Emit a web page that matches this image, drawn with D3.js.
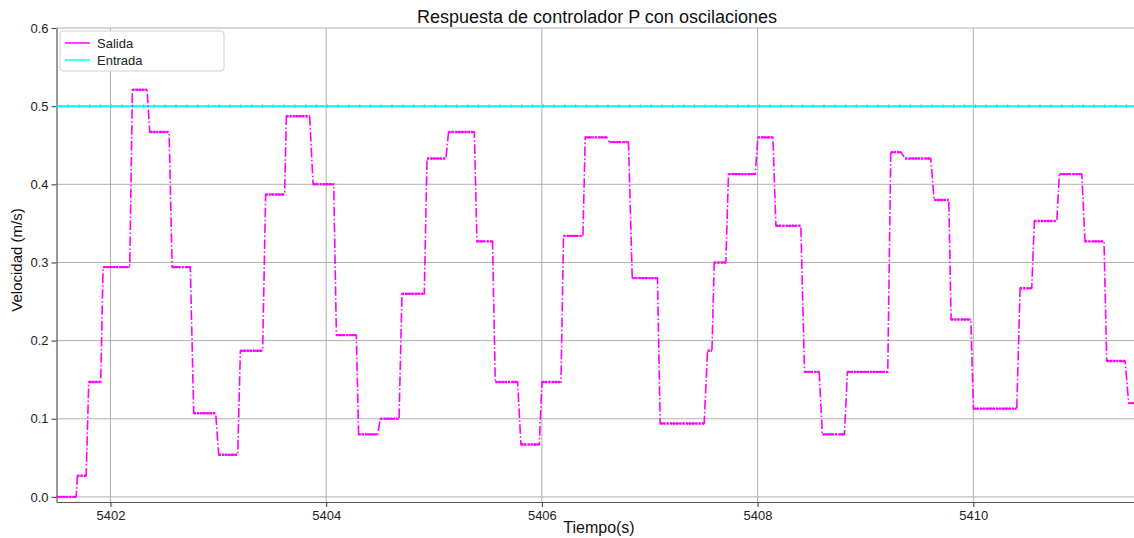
<!DOCTYPE html>
<html>
<head>
<meta charset="utf-8">
<script src="https://cdn.jsdelivr.net/npm/d3@7"></script>
<style>
  body { margin: 0; background: #fff; }
  svg { display: block; font-family: "Liberation Sans", Arial, sans-serif; }
  .grid line { stroke: #b0b0b0; stroke-width: 1; }
  .axis path, .axis line { stroke: #555; stroke-width: 1.2; }
  .axis text { fill: #222; font-size: 13px; }
</style>
</head>
<body>
<div id="graphic"></div>
<script>
// steps of the output signal (Salida): start time, end time, level
var stepStart = [5401.50, 5401.694, 5401.799, 5401.932, 5402.204, 5402.364, 5402.572, 5402.772, 5403.004, 5403.205,
  5403.439, 5403.631, 5403.879, 5404.095, 5404.301, 5404.502, 5404.703, 5404.935, 5405.135, 5405.398,
  5405.568, 5405.806, 5406.001, 5406.201, 5406.402, 5406.627, 5406.838, 5407.097, 5407.536, 5407.598,
  5407.730, 5408.003, 5408.170, 5408.435, 5408.601, 5408.833, 5409.235, 5409.368, 5409.637, 5409.794,
  5410.001, 5410.434, 5410.566, 5410.798, 5411.036, 5411.237, 5411.441];
var stepEnd = [5401.682, 5401.775, 5401.910, 5402.179, 5402.340, 5402.544, 5402.741, 5402.976, 5403.180, 5403.411,
  5403.615, 5403.847, 5404.070, 5404.280, 5404.477, 5404.676, 5404.910, 5405.111, 5405.374, 5405.543,
  5405.775, 5405.976, 5406.177, 5406.381, 5406.603, 5406.803, 5407.072, 5407.505, 5407.577, 5407.706,
  5407.978, 5408.142, 5408.401, 5408.571, 5408.805, 5409.207, 5409.331, 5409.606, 5409.773, 5409.977,
  5410.403, 5410.542, 5410.774, 5411.006, 5411.212, 5411.407, 5411.60];
var stepValue = [0.000, 0.027, 0.147, 0.294, 0.521, 0.467, 0.294, 0.107, 0.054, 0.187,
  0.387, 0.487, 0.400, 0.207, 0.080, 0.100, 0.260, 0.433, 0.467, 0.327,
  0.147, 0.067, 0.147, 0.334, 0.460, 0.454, 0.280, 0.094, 0.187, 0.300,
  0.413, 0.460, 0.347, 0.160, 0.080, 0.160, 0.441, 0.433, 0.380, 0.227,
  0.113, 0.267, 0.353, 0.413, 0.327, 0.174, 0.120];

// reference input (Entrada)
var entradaTime = [5401.5, 5411.6];
var entradaValue = [0.5, 0.5];

var xTicks = [5402, 5404, 5406, 5408, 5410];
var yTicks = [0.0, 0.1, 0.2, 0.3, 0.4, 0.5, 0.6];

var width = 1134, height = 538;
var margin = {top: 28, right: 0, bottom: 36, left: 56.5};

var svg = d3.select('#graphic').append('svg')
  .attr('width', width)
  .attr('height', height);

var x = d3.scaleLinear()
  .domain([5401.5, 5411.49])
  .range([margin.left, width - margin.right]);

var y = d3.scaleLinear()
  .domain([-0.0065, 0.6])
  .range([height - margin.bottom, margin.top]);

svg.append('defs').append('clipPath').attr('id', 'clip')
  .append('rect')
  .attr('x', margin.left)
  .attr('y', margin.top - 5)
  .attr('width', width - margin.left)
  .attr('height', height - margin.bottom - margin.top + 5);

// grid
var grid = svg.append('g').attr('class', 'grid');
grid.selectAll('line.h')
  .data(yTicks)
  .join('line')
  .attr('class', 'h')
  .attr('x1', margin.left).attr('x2', width)
  .attr('y1', d => y(d)).attr('y2', d => y(d));
grid.selectAll('line.v')
  .data(xTicks)
  .join('line')
  .attr('class', 'v')
  .attr('x1', d => x(d)).attr('x2', d => x(d))
  .attr('y1', margin.top).attr('y2', height - margin.bottom);

// axes
svg.append('g')
  .attr('class', 'x axis')
  .attr('transform', 'translate(0,' + (height - margin.bottom) + ')')
  .call(d3.axisBottom(x).tickValues(xTicks).tickFormat(d3.format('d')).tickSize(5).tickSizeOuter(0).tickPadding(4));

svg.append('g')
  .attr('class', 'y axis')
  .attr('transform', 'translate(' + margin.left + ',0)')
  .call(d3.axisLeft(y).tickValues(yTicks).tickFormat(d3.format('.1f')).tickSize(5).tickSizeOuter(0).tickPadding(3));

var plot = svg.append('g').attr('clip-path', 'url(#clip)');

// entrada
var entrada = d3.zip(entradaTime, entradaValue);
var line = d3.line().x(d => x(d[0])).y(d => y(d[1]));
plot.append('path')
  .datum(entrada)
  .attr('d', line)
  .attr('fill', 'none')
  .attr('stroke', '#00ffff')
  .attr('stroke-width', 2);
plot.append('path')
  .datum(entrada)
  .attr('d', line)
  .attr('fill', 'none')
  .attr('stroke', '#22e4e4')
  .attr('stroke-width', 3.5)
  .attr('stroke-dasharray', '1.5,9.3');

// salida: dash-dot line through the step levels
var salida = [];
stepValue.forEach(function(v, i) {
  salida.push([stepStart[i], v]);
  salida.push([stepEnd[i], v]);
});
plot.append('path')
  .datum(salida)
  .attr('d', line)
  .attr('fill', 'none')
  .attr('stroke', '#ff00ff')
  .attr('stroke-width', 1.6)
  .attr('stroke-dasharray', '9.6,2.4,1.5,2.4');

// sample markers on the flat parts
plot.selectAll('line.flat')
  .data(stepValue)
  .join('line')
  .attr('class', 'flat')
  .attr('x1', (d, i) => x(stepStart[i]))
  .attr('x2', (d, i) => x(stepEnd[i]))
  .attr('y1', d => y(d))
  .attr('y2', d => y(d))
  .attr('stroke', '#ff00ff')
  .attr('stroke-width', 2.4)
  .attr('stroke-dasharray', '2.2,1');

// title and labels
svg.append('text')
  .attr('x', 597).attr('y', 23)
  .attr('text-anchor', 'middle')
  .style('font-size', '18px')
  .attr('fill', '#111')
  .text('Respuesta de controlador P con oscilaciones');

svg.append('text')
  .attr('x', 599).attr('y', 533)
  .attr('text-anchor', 'middle')
  .style('font-size', '16px')
  .attr('fill', '#111')
  .text('Tiempo(s)');

svg.append('text')
  .attr('transform', 'translate(22,' + 260 + ') rotate(-90)')
  .attr('text-anchor', 'middle')
  .style('font-size', '15px')
  .attr('fill', '#111')
  .text('Velocidad (m/s)');

// legend
var legend = svg.append('g').attr('transform', 'translate(60,31)');
legend.append('rect')
  .attr('width', 164).attr('height', 40)
  .attr('rx', 3)
  .attr('fill', 'rgba(255,255,255,0.85)')
  .attr('stroke', '#d0d0d0');
var legendItems = [['Salida', '#ff00ff'], ['Entrada', '#00ffff']];
var li = legend.selectAll('g.item')
  .data(legendItems)
  .join('g')
  .attr('class', 'item')
  .attr('transform', (d, i) => 'translate(0,' + (12 + i * 17) + ')');
li.append('line')
  .attr('x1', 5).attr('x2', 30)
  .attr('stroke', d => d[1])
  .attr('stroke-width', 1.5);
li.append('text')
  .attr('x', 37).attr('y', 5)
  .style('font-size', '13px')
  .attr('fill', '#222')
  .text(d => d[0]);
</script>
</body>
</html>
